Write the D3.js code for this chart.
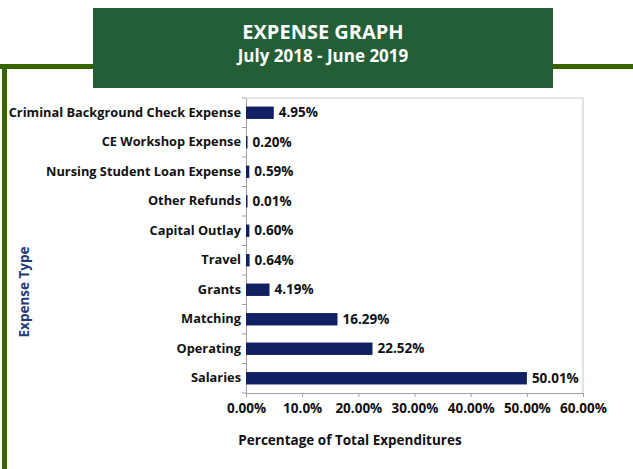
<!DOCTYPE html>
<html>
<head>
<meta charset="utf-8">
<script src="https://cdn.jsdelivr.net/npm/d3@7"></script>
<style>
  body { margin: 0; background: #fff; }
  text { font-family: "Open Sans", Lato, sans-serif; font-weight: 700; }
</style>
</head>
<body>
<div id="chart"></div>
<script>
// data, top to bottom as in the picture
var categories = ["Criminal Background Check Expense", "CE Workshop Expense", "Nursing Student Loan Expense",
  "Other Refunds", "Capital Outlay", "Travel", "Grants", "Matching", "Operating", "Salaries"];
var values = [4.95, 0.20, 0.59, 0.01, 0.60, 0.64, 4.19, 16.29, 22.52, 50.01];
var valueLabels = ["4.95%", "0.20%", "0.59%", "0.01%", "0.60%", "0.64%", "4.19%", "16.29%", "22.52%", "50.01%"];
var tickValues = [0, 10, 20, 30, 40, 50, 60];
var tickLabels = ["0.00%", "10.0%", "20.00%", "30.00%", "40.00%", "50.00%", "60.00%"];

var W = 633, H = 469;
var margin = {left: 246, right: 50, top: 98, bottom: 76};
var width = W - margin.left - margin.right;
var height = H - margin.top - margin.bottom;

var svg = d3.select("#chart").append("svg")
  .attr("width", W)
  .attr("height", H);

// green frame (top + left)
svg.append("rect").attr("x", 0).attr("y", 64).attr("width", W).attr("height", 5).attr("fill", "#356300");
svg.append("rect").attr("x", 2).attr("y", 64).attr("width", 5).attr("height", H - 64).attr("fill", "#356300");

// title box
svg.append("rect").attr("x", 93).attr("y", 8).attr("width", 460).attr("height", 80).attr("fill", "#245e36");
svg.append("text").text("EXPENSE GRAPH")
  .attr("x", 323).attr("y", 39).attr("text-anchor", "middle")
  .attr("fill", "#fff").attr("font-size", "20px");
svg.append("text").text("July 2018 - June 2019")
  .attr("x", 323).attr("y", 62).attr("text-anchor", "middle")
  .attr("fill", "#fff").attr("font-size", "17px");

var g = svg.append("g")
  .attr("transform", "translate(" + margin.left + "," + margin.top + ")");

var x = d3.scaleLinear().domain([0, 60]).range([0, width]);
var y = d3.scaleBand().domain(categories).range([0, height]).paddingInner(0.58).paddingOuter(0.29);

// plot border (top and right)
g.append("path")
  .attr("d", "M0,0H" + width + "V" + height)
  .attr("fill", "none").attr("stroke", "#d0d0d0").attr("stroke-width", 1.2);

// x axis
var xAxis = g.append("g")
  .attr("transform", "translate(0," + height + ")")
  .call(d3.axisBottom(x).tickValues(tickValues).tickSize(4)
    .tickFormat(function(d, i) { return tickLabels[i]; }));
xAxis.select(".domain").attr("stroke", "#a0a0a0");
xAxis.selectAll(".tick line").attr("stroke", "#a0a0a0");
xAxis.selectAll(".tick text").attr("font-size", "13.5px").attr("fill", "#111").attr("dy", "0.95em");

// y axis, ticks at band boundaries
var yAxis = g.append("g").call(d3.axisLeft(y).tickSize(0).tickPadding(5));
yAxis.select(".domain").attr("stroke", "#a0a0a0");
yAxis.selectAll(".tick text").attr("font-size", "12.8px").attr("fill", "#111");
g.selectAll(".ytick").data(d3.range(categories.length + 1)).enter().append("line")
  .attr("x1", -4).attr("x2", 0)
  .attr("y1", function(i) { return i * height / categories.length; })
  .attr("y2", function(i) { return i * height / categories.length; })
  .attr("stroke", "#a0a0a0");

// bars
g.selectAll(".bar").data(values).enter().append("rect")
  .attr("class", "bar")
  .attr("x", 0)
  .attr("y", function(d, i) { return y(categories[i]); })
  .attr("width", function(d) { return Math.max(x(d), 1.5); })
  .attr("height", y.bandwidth())
  .attr("fill", "#0f2160");

// value labels
g.selectAll(".val").data(values).enter().append("text")
  .attr("x", function(d) { return Math.max(x(d), 1.5) + 5; })
  .attr("y", function(d, i) { return y(categories[i]) + y.bandwidth() / 2; })
  .attr("dy", "0.35em")
  .attr("font-size", "13.5px").attr("fill", "#111")
  .text(function(d, i) { return valueLabels[i]; });

// axis titles
svg.append("text").text("Percentage of Total Expenditures")
  .attr("x", 350).attr("y", 445).attr("text-anchor", "middle")
  .attr("font-size", "13.5px").attr("fill", "#111");
svg.append("text").text("Expense Type")
  .attr("transform", "translate(29,292) rotate(-90)")
  .attr("text-anchor", "middle")
  .attr("font-size", "13.5px").attr("fill", "#1f3c78");
</script>
</body>
</html>
